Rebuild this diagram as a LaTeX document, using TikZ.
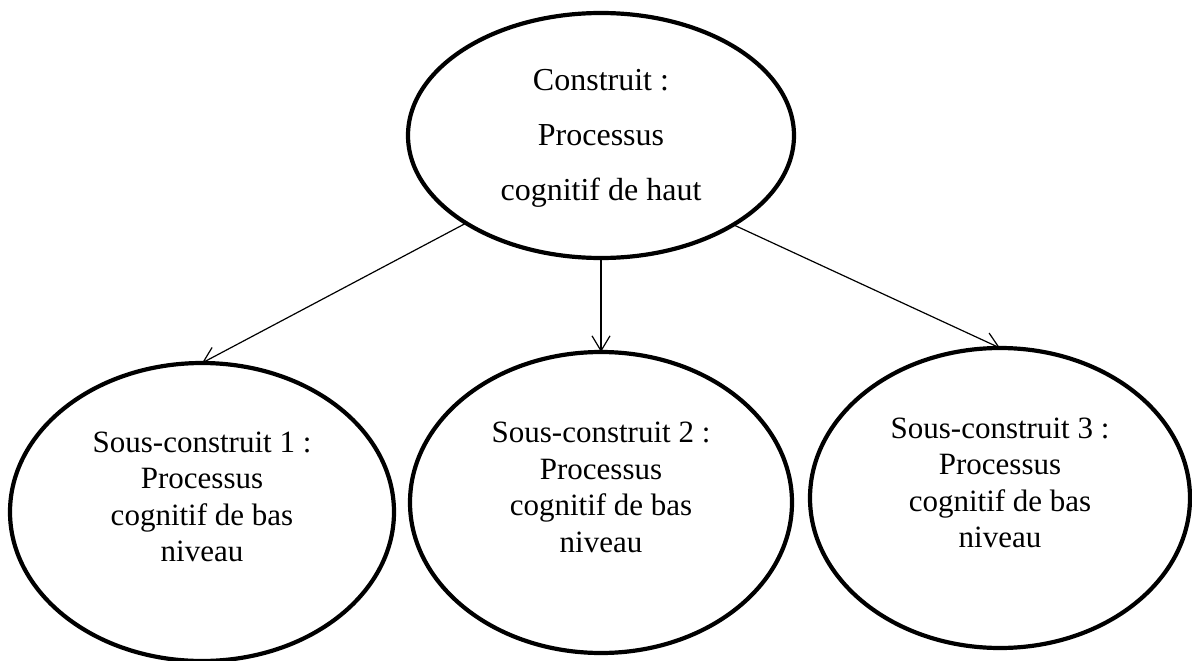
\documentclass[tikz,border=0pt]{standalone}
\usepackage{fontspec}
\setmainfont{Liberation Serif}
\usetikzlibrary{shapes.geometric,arrows.meta}
\tikzset{
  bubble/.style={draw=black, ellipse, line width=4.2pt, inner sep=0pt, outer sep=0pt},
  conn/.style={draw=black, line width=1.2pt, -{Straight Barb[length=15pt,width=18pt,line width=1.2pt]}},
  toptext/.style={align=center, inner sep=0pt, font=\fontsize{32}{55}\selectfont},
  subtext/.style={align=center, inner sep=0pt, font=\fontsize{31}{36.5}\selectfont}
}
\begin{document}
\begin{tikzpicture}[x=1pt,y=-1pt]
\useasboundingbox (0,0) rectangle (1192,661);
\fill[white] (0,0) rectangle (1192,661);
% ellipses
\node[bubble, minimum width=386pt, minimum height=245pt] (top) at (601,135.5) {};
\node[bubble, minimum width=384pt, minimum height=298pt] (e1) at (202,512) {};
\node[bubble, minimum width=382pt, minimum height=301pt] (e2) at (601,502.5) {};
\node[bubble, minimum width=380pt, minimum height=300pt] (e3) at (1000,498) {};
% texts
\node[toptext, yshift=-3pt] (ttop) at (top.center) {Construit :\\Processus\\cognitif de haut};
\node[subtext, yshift=15pt] (t1) at (e1.center) {Sous-construit 1 :\\Processus\\cognitif de bas\\niveau};
\node[subtext, yshift=15pt] (t2) at (e2.center) {Sous-construit 2 :\\Processus\\cognitif de bas\\niveau};
\node[subtext, yshift=15pt] (t3) at (e3.center) {Sous-construit 3 :\\Processus\\cognitif de bas\\niveau};
% connectors
\draw[conn] (top.213) -- (e1.north);
\draw[conn] (top.south) -- (e2.north);
\draw[conn] (top.326) -- (e3.north);
\end{tikzpicture}
\end{document}
